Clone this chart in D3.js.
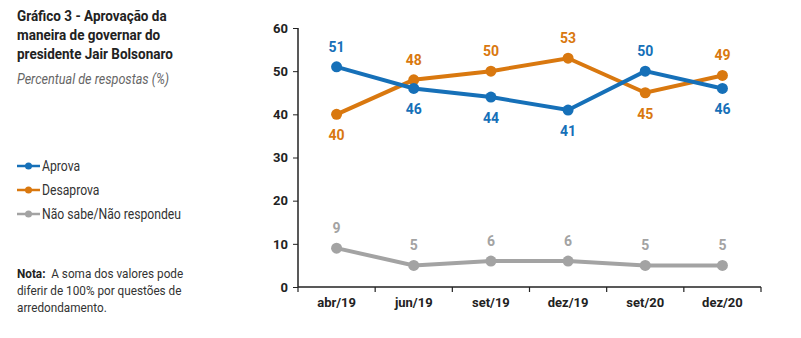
<!DOCTYPE html>
<html>
<head>
<meta charset="utf-8">
<script src="https://cdn.jsdelivr.net/npm/d3@7"></script>
<style>
  body { margin: 0; background: #fff; font-family: Roboto, sans-serif; }
  svg text { font-family: Roboto, sans-serif; }
</style>
</head>
<body>
<div id="chart"></div>
<script>
const periods = ["abr/19", "jun/19", "set/19", "dez/19", "set/20", "dez/20"]
const aprova = [51, 46, 44, 41, 50, 46]
const desaprova = [40, 48, 50, 53, 45, 49]
const naoSabe = [9, 5, 6, 6, 5, 5]
// label placement: 1 = above, -1 = below
const aprovaPos = [1, -1, -1, -1, 1, -1]
const desaprovaPos = [-1, 1, 1, 1, -1, 1]
const naoSabePos = [1, 1, 1, 1, 1, 1]
const yTicks = [0, 10, 20, 30, 40, 50, 60]

const series = [
    {name: "Aprova", values: aprova, pos: aprovaPos, color: "#1670b8"},
    {name: "Desaprova", values: desaprova, pos: desaprovaPos, color: "#d9780f"},
    {name: "Não sabe/Não respondeu", values: naoSabe, pos: naoSabePos, color: "#a3a3a3"}
]

const W = 801, H = 338
const margin = {top: 28, right: 40, bottom: 51, left: 298}
const width = W - margin.left - margin.right
const height = H - margin.top - margin.bottom
const squeeze = 0.87   // the source font is a condensed face

const svg = d3.select("#chart").append("svg")
    .attr("width", W)
    .attr("height", H)

// title block
const title = svg.append("g").attr("transform", `translate(17,0) scale(${squeeze},1)`)
const titleLines = ["Gráfico 3 - Aprovação da", "maneira de governar do", "presidente Jair Bolsonaro"]
title.selectAll("text.t").data(titleLines).join("text")
    .attr("class", "t")
    .attr("x", 0)
    .attr("y", (d, i) => 21 + i * 19)
    .attr("font-size", 15.5)
    .attr("font-weight", "bold")
    .attr("fill", "#222")
    .text(d => d)
title.append("text")
    .attr("x", 0).attr("y", 84)
    .attr("font-size", 14.5)
    .attr("font-style", "italic")
    .attr("fill", "#666")
    .text("Percentual de respostas (%)")

// legend
const legend = svg.append("g").attr("transform", "translate(17,166)")
const lg = legend.selectAll("g").data(series).join("g")
    .attr("transform", (d, i) => `translate(0,${i * 24})`)
lg.append("line").attr("x1", 0).attr("x2", 23).attr("y1", 0).attr("y2", 0)
    .attr("stroke", d => d.color).attr("stroke-width", 2.5)
lg.append("circle").attr("cx", 11.5).attr("cy", 0).attr("r", 3.5).attr("fill", d => d.color)
lg.append("text").attr("transform", `translate(25,5) scale(${squeeze},1)`)
    .attr("font-size", 14).attr("fill", "#333")
    .text(d => d.name)

// note
const note = svg.append("g").attr("transform", `translate(17,278) scale(${squeeze},1)`)
const noteLine1 = note.append("text").attr("x", 0).attr("y", 0).attr("font-size", 13.5).attr("fill", "#333")
noteLine1.append("tspan").attr("font-weight", "bold").attr("fill", "#222").text("Nota:")
noteLine1.append("tspan").text("\u00a0\u00a0A soma dos valores pode")
note.append("text").attr("x", 0).attr("y", 17).attr("font-size", 13.5).attr("fill", "#333")
    .text("diferir de 100% por questões de")
note.append("text").attr("x", 0).attr("y", 34).attr("font-size", 13.5).attr("fill", "#333")
    .text("arredondamento.")

// plot
const g = svg.append("g").attr("transform", `translate(${margin.left},${margin.top})`)

const x = d3.scaleBand().domain(periods).range([0, width])
const y = d3.scaleLinear().domain([0, 60]).range([height, 0])

const xAxis = d3.axisBottom(x).tickSize(5).tickFormat(d => d)
const yAxis = d3.axisLeft(y).tickValues(yTicks).tickSize(5)

const gx = g.append("g").attr("class", "axis x-axis")
    .attr("transform", `translate(0,${height})`)
    .call(xAxis)
gx.selectAll(".tick line").remove()
// ticks on band boundaries
gx.selectAll("line.bound").data(periods.concat(["end"])).join("line")
    .attr("class", "bound")
    .attr("x1", (d, i) => i * x.bandwidth()).attr("x2", (d, i) => i * x.bandwidth())
    .attr("y1", 0).attr("y2", 5).attr("stroke", "#222").attr("stroke-width", 1.2)
gx.selectAll(".tick text").attr("dy", "0.95em").attr("y", 8)

const gy = g.append("g").attr("class", "axis y-axis").call(yAxis)
gy.selectAll(".tick text").attr("x", -10)

svg.selectAll(".axis path").attr("stroke", "#222").attr("stroke-width", 1.5)
svg.selectAll(".axis .tick line").attr("stroke", "#222")
svg.selectAll(".axis text")
    .attr("font-size", 13).attr("font-weight", "bold").attr("fill", "#222")
    .attr("font-family", "Roboto, sans-serif")
gx.select(".domain").attr("d", `M0,0H${width}`)
gy.select(".domain").attr("d", `M0,${height}V0`)

const line = d3.line()
    .x((d, i) => x(periods[i]) + x.bandwidth() / 2)
    .y(d => y(d))

series.slice().reverse().forEach(s => {
    const sg = g.append("g")
    sg.append("path").datum(s.values)
        .attr("d", line)
        .attr("fill", "none")
        .attr("stroke", s.color)
        .attr("stroke-width", 4)
    sg.selectAll("circle").data(s.values).join("circle")
        .attr("cx", (d, i) => x(periods[i]) + x.bandwidth() / 2)
        .attr("cy", d => y(d))
        .attr("r", 5.5)
        .attr("fill", s.color)
    sg.selectAll("text").data(s.values).join("text")
        .attr("x", (d, i) => x(periods[i]) + x.bandwidth() / 2)
        .attr("y", (d, i) => y(d) + (s.pos[i] > 0 ? -15 : 26))
        .attr("text-anchor", "middle")
        .attr("font-size", 14)
        .attr("font-weight", "bold")
        .attr("fill", s.color)
        .text(d => d)
})
</script>
</body>
</html>
